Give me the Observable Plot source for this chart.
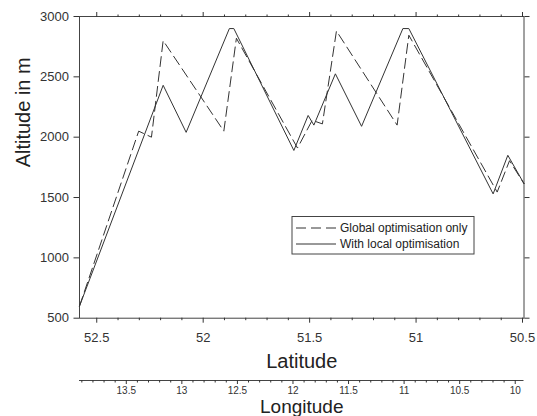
<!DOCTYPE html>
<html><head><meta charset="utf-8">
<script src="https://cdn.jsdelivr.net/npm/d3@7"></script>
<script src="https://cdn.jsdelivr.net/npm/@observablehq/plot@0.6"></script>
<style>
body{margin:0;background:#fff;}
#chart svg{display:block;}
</style></head><body><div id="chart"></div>
<script>
// Series: Global optimisation only (dashed)
const globalLat = [52.581, 52.303, 52.243, 52.188, 51.903, 51.844, 51.557, 51.488, 51.440, 51.374, 51.089, 51.034, 50.619, 50.561, 50.493];
const globalAlt = [600, 2050, 2000, 2800, 2050, 2820, 1910, 2140, 2110, 2880, 2100, 2845, 1545, 1805, 1615];
// Series: With local optimisation (solid)
const localLat = [52.581, 52.188, 52.080, 51.877, 51.856, 51.574, 51.507, 51.480, 51.379, 51.256, 51.062, 51.034, 50.638, 50.569, 50.493];
const localAlt = [600, 2430, 2040, 2900, 2900, 1890, 2180, 2100, 2525, 2090, 2900, 2900, 1530, 1850, 1615];

const latTicks = [52.5, 52, 51.5, 51, 50.5];
const altTicks = [500, 1000, 1500, 2000, 2500, 3000];
const lonTicks = [13.5, 13, 12.5, 12, 11.5, 11, 10.5, 10];
const latMinor = d3.range(505, 526).filter(v => v % 5 !== 0).map(v => v / 10);
const lonMinor = d3.range(100, 140).filter(v => v % 5 !== 0).map(v => v / 10);

const seriesNames = ["Global optimisation only", "With local optimisation"];
const globalData = globalLat.map((lat, i) => ({lat, alt: globalAlt[i]}));
const localData = localLat.map((lat, i) => ({lat, alt: localAlt[i]}));

const fmt = d => String(d);
const none = () => "";
const font = "'Liberation Sans', Arial, Helvetica, sans-serif";
const ink = "#333";

const plot1 = Plot.plot({
  width: 537, height: 372,
  marginTop: 16, marginBottom: 54.3, marginLeft: 79, marginRight: 13.5,
  x: {domain: [52.581, 50.493]},
  y: {domain: [500, 3000]},
  style: {fontFamily: font, fontSize: "13px", color: ink, background: "white"},
  marks: [
    Plot.frame({stroke: "#444"}),
    Plot.axisX(latTicks, {anchor: "bottom", tickSize: 5, tickPadding: 10, tickFormat: fmt, label: null, fontSize: 13}),
    Plot.axisX(latMinor, {anchor: "bottom", tickSize: 2.5, tickFormat: none, label: null}),
    Plot.axisX(latTicks, {anchor: "top", tickSize: 5, tickFormat: none, label: null}),
    Plot.axisX(latMinor, {anchor: "top", tickSize: 2.5, tickFormat: none, label: null}),
    Plot.axisY(altTicks, {anchor: "left", tickSize: 5.5, tickPadding: 5, tickFormat: fmt, label: null, fontSize: 13}),
    Plot.axisY(altTicks, {anchor: "right", tickSize: 5, tickFormat: none, label: null}),
    Plot.line(globalData, {x: "lat", y: "alt", stroke: "#333", strokeWidth: 1, strokeDasharray: "10,5"}),
    Plot.line(localData, {x: "lat", y: "alt", stroke: "#333", strokeWidth: 1}),
    Plot.text(["Latitude"], {text: d => d, frameAnchor: "bottom", dy: 50, lineAnchor: "bottom", fontSize: 20, fill: "#222"}),
    Plot.text(["Altitude in m"], {text: d => d, frameAnchor: "left", dx: -50, rotate: -90, lineAnchor: "bottom", fontSize: 20, fill: "#222"})
  ]
});

// Legend
const svg = d3.select(plot1);
const lg = svg.append("g").attr("font-family", font).attr("font-size", 12).attr("fill", "#222")
  .attr("text-anchor", "start");
lg.append("rect").attr("x", 292).attr("y", 216.5).attr("width", 182).attr("height", 37.5)
  .attr("fill", "white").attr("stroke", "#444").attr("stroke-width", 1);
[["10,5", 228], [null, 244]].forEach(([dash, y], i) => {
  const l = lg.append("line").attr("x1", 296).attr("x2", 336).attr("y1", y).attr("y2", y)
    .attr("stroke", "#333").attr("stroke-width", 1);
  if (dash) l.attr("stroke-dasharray", dash);
  lg.append("text").attr("x", 340).attr("y", y + 4.3).attr("text-anchor", "start").text(seriesNames[i]);
});

const plot2 = Plot.plot({
  width: 537, height: 44,
  marginTop: 7, marginBottom: 36, marginLeft: 79, marginRight: 13.5,
  x: {domain: [13.921, 9.921]},
  y: {domain: [0, 1], axis: null},
  style: {fontFamily: font, fontSize: "10px", color: ink, background: "white", overflow: "visible"},
  marks: [
    Plot.ruleY([0], {stroke: "#444"}),
    Plot.axisX(lonTicks, {anchor: "bottom", tickSize: 4, tickPadding: 2, tickFormat: fmt, label: null, fontSize: 10}),
    Plot.axisX(lonMinor, {anchor: "bottom", tickSize: 2.5, tickFormat: none, label: null}),
    Plot.text(["Longitude"], {text: d => d, frameAnchor: "bottom", dy: 32, lineAnchor: "bottom", fontSize: 19, fill: "#222"})
  ]
});

document.getElementById("chart").append(plot1, plot2);
</script></body></html>
